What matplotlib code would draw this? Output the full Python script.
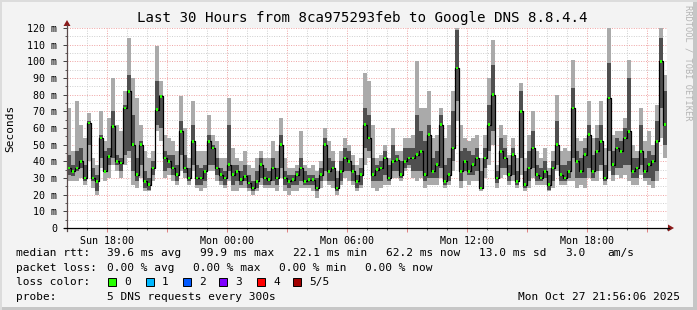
import matplotlib
matplotlib.use('Agg')
import matplotlib.pyplot as plt
import matplotlib.dates as mdates
from matplotlib.patches import Rectangle, Polygon
from matplotlib.lines import Line2D
from matplotlib.ticker import MultipleLocator, FuncFormatter
import numpy as np
import pandas as pd

# ---------------- data ----------------
title = "Last 30 Hours from 8ca975293feb to Google DNS 8.8.4.4"
start_time = "2025-10-26 16:00"
step_minutes = 12

# median rtt (ms) per sample
median = [36,34,36,40,30,63,30,28,54,34,43,61,40,39,72,82,50,32,50,28,26,36,71,79,42,40,
          36,32,58,36,30,52,30,30,34,52,48,36,32,30,38,32,34,29,31,27,24,28,38,30,29,
          36,30,50,30,28,29,32,36,28,29,29,24,32,50,34,36,24,34,42,40,34,28,32,62,54,
          32,35,36,42,30,40,41,32,40,42,42,44,46,32,56,34,38,62,28,32,48,96,34,40,34,
          38,42,24,42,62,80,30,46,42,32,44,28,70,26,36,48,32,30,34,26,36,50,32,30,34,
          72,40,34,44,56,34,46,52,30,78,38,48,46,54,58,34,36,46,34,38,40,52,100,62]
# smoke: sorted pings 1,2,4,5 (ms)
ping1 = [28,28,28,30,26,40,24,20,36,28,30,38,34,30,38,42,26,24,30,22,22,28,58,52,30,32,
         28,26,34,30,26,34,24,22,24,34,34,28,26,24,28,22,22,24,24,22,20,22,26,24,24,
         24,22,30,22,20,22,22,24,24,24,22,18,24,28,26,24,20,26,30,28,26,22,24,38,42,
         24,22,24,26,26,30,30,28,34,36,30,28,30,24,26,26,26,30,24,26,34,64,24,28,26,
         28,28,22,30,38,50,24,30,32,26,28,24,32,22,24,30,26,26,26,22,24,34,26,26,28,
         28,24,26,24,30,28,28,34,26,34,28,32,30,32,28,26,26,32,28,26,24,28,54,42]
ping2 = [32,31,34,36,28,50,28,22,42,34,38,42,38,34,44,46,34,28,38,24,23,32,62,60,34,36,
         32,28,44,33,28,38,26,26,28,38,38,32,28,26,34,26,28,26,28,24,22,24,30,26,26,
         28,26,36,26,24,26,26,28,26,26,26,22,28,34,28,28,22,28,34,34,28,24,26,48,46,
         28,28,28,32,28,34,34,30,36,38,34,34,34,28,30,30,30,36,26,28,40,76,28,34,32,
         32,34,24,36,46,58,27,36,36,28,32,26,42,24,28,36,28,28,30,23,28,38,28,28,30,
         42,30,30,30,36,30,34,38,28,46,32,36,36,38,38,30,30,38,30,30,28,34,72,50]
ping4 = [44,38,46,48,38,64,36,32,56,46,48,70,44,42,74,92,68,42,52,34,30,40,88,80,46,44,
         44,38,64,44,36,62,38,36,38,56,50,42,36,34,62,38,38,34,38,32,28,34,42,36,34,
         42,36,56,34,32,32,34,42,34,32,32,30,36,54,42,40,30,40,48,46,38,32,36,72,68,
         42,38,40,46,38,50,44,40,48,48,48,68,58,52,62,42,46,68,38,42,70,119,46,48,46,
         44,48,34,48,74,98,34,54,48,38,48,34,82,34,46,58,38,36,40,32,40,64,38,38,40,
         84,46,42,48,62,44,54,62,38,99,46,54,52,60,90,42,42,62,42,46,44,64,114,82]
ping5 = [72,46,76,62,54,69,42,38,70,52,66,90,62,58,82,114,90,78,62,46,42,46,109,88,56,54,
         52,46,79,60,42,76,46,46,46,68,56,52,42,42,78,48,42,40,46,38,36,42,46,42,42,
         52,46,66,42,36,36,38,58,38,36,38,34,40,60,52,46,34,46,54,50,44,38,42,93,88,
         62,42,44,50,42,60,46,46,54,54,56,100,72,72,82,54,56,72,54,62,82,120,62,54,52,
         54,56,42,56,90,113,38,62,56,44,54,42,87,42,56,70,46,42,48,36,46,80,46,48,46,
         101,54,52,54,76,54,62,76,48,120,56,58,58,66,101,50,46,72,52,58,50,74,120,92]

rtt_labels = ["median rtt:", "39.6 ms avg", "99.9 ms max", "22.1 ms min", "62.2 ms now", "13.0 ms sd", "3.0", "am/s"]
loss_labels = ["packet loss:", "0.00 % avg", "0.00 % max", "0.00 % min", "0.00 % now"]
loss_color_names = ["0", "1", "2", "3", "4", "5/5"]
loss_colors = ["#26ff00", "#00b8ff", "#0059ff", "#7e00ff", "#ff0000", "#a10000"]
probe_labels = ["probe:", "5 DNS requests every 300s"]
timestamp = "Mon Oct 27 21:56:06 2025"

# ---------------- figure ----------------
W, H = 697, 310
MONO = 'DejaVu Sans Mono'
fig = plt.figure(figsize=(W / 100, H / 100), dpi=100)
fig.patch.set_facecolor('#F3F3F3')

def fx(px):
    return px / W

def fy(py):
    return 1 - py / H

# border shading
fig.add_artist(Rectangle((0, 0), 1, 3 / H, transform=fig.transFigure, facecolor='#C6C6C6', edgecolor='none'))
fig.add_artist(Rectangle((fx(W - 4), 0), fx(4), 1, transform=fig.transFigure, facecolor='#C6C6C6', edgecolor='none'))
fig.add_artist(Rectangle((0, fy(2)), 1, 2 / H, transform=fig.transFigure, facecolor='#DCDCDC', edgecolor='none'))
fig.add_artist(Rectangle((0, 0), fx(2), 1, transform=fig.transFigure, facecolor='#DCDCDC', edgecolor='none'))

ax = fig.add_axes([fx(67), fy(228), fx(600), 200 / H])
ax.set_facecolor('white')

t0 = pd.Timestamp(start_time)
n = len(median)
times = pd.date_range(t0, periods=n, freq=f"{step_minutes}min")
x = mdates.date2num(times.to_pydatetime())
w = step_minutes / 1440.0

med = np.array(median, float)
p1 = np.array(ping1, float)
p2 = np.array(ping2, float)
p4 = np.array(ping4, float)
p5 = np.array(ping5, float)

light = '#AAAAAA'
dark = '#4F4F4F'
ax.bar(x, p5 - p1, bottom=p1, width=w, align='edge', color=light, linewidth=0, zorder=2)
ax.bar(x, p4 - p2, bottom=p2, width=w, align='edge', color=dark, linewidth=0, zorder=3)
ax.plot(x + w / 2, med, drawstyle='steps-mid', color='black', lw=0.9, zorder=4)
ax.bar(x + w / 2, np.full(n, 1.6), bottom=med - 0.8, width=w * 0.65, align='center',
       color=loss_colors[0], linewidth=0, zorder=5)

ax.set_ylim(0, 120)
ax.set_xlim(mdates.date2num(t0.to_pydatetime()), mdates.date2num((t0 + pd.Timedelta(hours=30)).to_pydatetime()))

# grid
ax.yaxis.set_major_locator(MultipleLocator(10))
ax.yaxis.set_minor_locator(MultipleLocator(5))
ax.xaxis.set_major_locator(mdates.HourLocator(byhour=range(0, 24, 3)))
ax.xaxis.set_minor_locator(mdates.HourLocator())

def xfmt(v, pos):
    d = mdates.num2date(v)
    if d.hour % 6 == 0:
        return d.strftime('%a %H:%M')
    return ''

ax.xaxis.set_major_formatter(FuncFormatter(xfmt))
ax.yaxis.set_major_formatter(FuncFormatter(lambda v, p: '0' if v == 0 else f'{v:.0f} m'))
ax.grid(which='minor', color='#CFCFCF', linestyle=(0, (1, 1.5)), linewidth=0.7)
ax.grid(which='major', color='#EFA3A3', linestyle=(0, (1, 1.5)), linewidth=0.7)
ax.set_axisbelow(True)

for s in ax.spines.values():
    s.set_visible(False)

ax.tick_params(axis='y', which='major', length=3, width=0.7, color='#404040', pad=4,
               labelsize=7.2, labelcolor='black')
ax.tick_params(axis='y', which='minor', length=1.5, width=0.6, color='#404040')
ax.tick_params(axis='x', which='major', length=3, width=0.7, color='#E08080', pad=3,
               labelsize=7.2, labelcolor='black')
ax.tick_params(axis='x', which='minor', length=1.5, width=0.6, color='#404040')
for lab in ax.get_xticklabels() + ax.get_yticklabels():
    lab.set_family(MONO)

# axis lines with arrows
fig.add_artist(Line2D([fx(67), fx(67)], [fy(231), fy(25)], transform=fig.transFigure, color='#5A4A4A', lw=0.9))
fig.add_artist(Line2D([fx(64), fx(669)], [fy(228), fy(228)], transform=fig.transFigure, color='#000000', lw=0.9))
fig.add_artist(Polygon([[fx(67), fy(20)], [fx(63.5), fy(26)], [fx(70.5), fy(26)]], closed=True,
                       transform=fig.transFigure, facecolor='#8B1A1A', edgecolor='none'))
fig.add_artist(Polygon([[fx(674), fy(228)], [fx(668), fy(224.5)], [fx(668), fy(231.5)]], closed=True,
                       transform=fig.transFigure, facecolor='#8B1A1A', edgecolor='none'))

# title & labels
fig.text(fx(362), fy(18), title, ha='center', va='center', family=MONO, fontsize=10.2, color='black')
fig.text(fx(10), fy(128), 'Seconds', ha='center', va='center', rotation=90, family=MONO, fontsize=8, color='black')
fig.text(fx(688), fy(5), 'RRDTOOL / TOBI OETIKER', ha='center', va='top', rotation=270,
         family=MONO, fontsize=6.2, color='#B4B4B4')

# legend rows
LS = 8.0
rtt_x = [16, 107, 200, 293, 386, 479, 565, 607]
for xx, t in zip(rtt_x, rtt_labels):
    fig.text(fx(xx), fy(253), t, ha='left', va='center', family=MONO, fontsize=LS)
loss_x = [16, 107, 193, 279, 365]
for xx, t in zip(loss_x, loss_labels):
    fig.text(fx(xx), fy(268), t, ha='left', va='center', family=MONO, fontsize=LS)
fig.text(fx(16), fy(282), 'loss color:', ha='left', va='center', family=MONO, fontsize=LS)
sq_x = [108, 146, 183, 219, 257, 293]
for xx, name, col in zip(sq_x, loss_color_names, loss_colors):
    fig.add_artist(Rectangle((fx(xx), fy(286)), fx(8), 8 / H, transform=fig.transFigure,
                             facecolor=col, edgecolor='black', linewidth=0.7))
    fig.text(fx(xx + 16), fy(282), name, ha='left', va='center', family=MONO, fontsize=LS)
probe_x = [16, 107]
for xx, t in zip(probe_x, probe_labels):
    fig.text(fx(xx), fy(297), t, ha='left', va='center', family=MONO, fontsize=LS)
fig.text(fx(680), fy(297), timestamp, ha='right', va='center', family=MONO, fontsize=LS)

fig.savefig('out.png', dpi=100, facecolor=fig.get_facecolor())
